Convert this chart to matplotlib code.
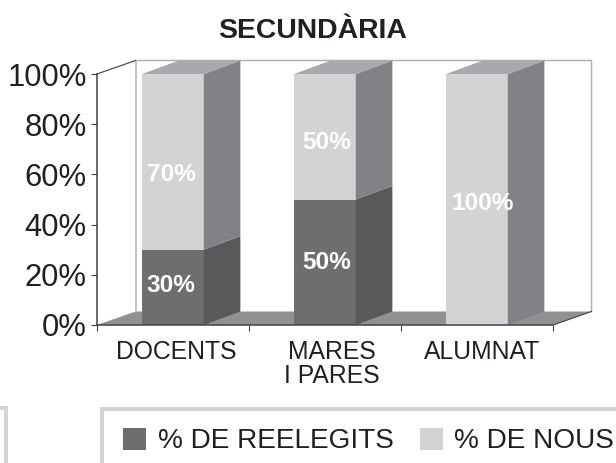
import matplotlib
matplotlib.use("Agg")
import matplotlib.pyplot as plt
from matplotlib.patches import Rectangle, Patch
from matplotlib.transforms import ScaledTranslation

plt.rcParams['font.family'] = ['Liberation Sans', 'DejaVu Sans']

categories = ['DOCENTS', 'MARES\nI PARES', 'ALUMNAT']
reelegits = [30, 50, 0]
nous = [70, 50, 100]
y_ticks = [0, 20, 40, 60, 80, 100]
y_tick_labels = ['0%', '20%', '40%', '60%', '80%', '100%']
title = 'SECUNDÀRIA'
legend_labels = ['% DE REELEGITS', '% DE NOUS']

W, H = 616, 463
fig = plt.figure(figsize=(W / 100, H / 100), dpi=100)
L, R, T, B = 97, 553, 74, 325
ax = fig.add_axes([L / W, 1 - B / H, (R - L) / W, (B - T) / H])
ax.set_xlim(-0.5, 2.5)
ax.set_ylim(0, 100)

DX = 38.5 / 152
DY = 13.5 / 251 * 100
BW = 0.405

C_DARK, C_LIGHT = '#6d6e70', '#d1d3d4'
S_DARK, S_LIGHT = '#58595b', '#808285'
C_TOP, C_FLOOR = '#a7a9ac', '#8f9193'
C_WALL, C_AXIS = '#b1b3b6', '#414042'

x0, x1 = -0.5, 2.5
ax.fill([x0, x1, x1 + DX, x0 + DX], [0, 0, DY, DY], color=C_FLOOR, lw=0, zorder=1, clip_on=False)
ax.plot([x0, x0 + DX, x1 + DX, x1 + DX], [100, 100 + DY, 100 + DY, DY], color=C_WALL, lw=1.1, zorder=1, clip_on=False)
ax.plot([x0 + DX, x0 + DX], [100 + DY, DY], color=C_WALL, lw=1.1, zorder=1, clip_on=False)
ax.plot([x0, x0 + DX], [100, 100 + DY], color=C_AXIS, lw=0.6, zorder=1.1, clip_on=False)
ax.plot([x1, x1 + DX], [0, DY], color=C_AXIS, lw=0.8, zorder=1.1, clip_on=False)

xs = list(range(len(categories)))
for i, (a, b) in enumerate(zip(reelegits, nous)):
    xl, xr = i - BW / 2, i + BW / 2
    if a > 0:
        ax.bar(i, a, BW, color=C_DARK, lw=0, zorder=3)
        ax.fill([xr, xr + DX * 0.95, xr + DX * 0.95, xr], [0, DY, a + DY, a], color=S_DARK, lw=0, zorder=3, clip_on=False)
    ax.bar(i, b, BW, bottom=a, color=C_LIGHT, lw=0, zorder=3)
    ax.fill([xr, xr + DX * 0.95, xr + DX * 0.95, xr], [a, a + DY, a + b + DY, a + b], color=S_LIGHT, lw=0, zorder=3, clip_on=False)
    ax.fill([xl, xr, xr + DX * 0.95, xl + DX * 0.95], [a + b, a + b, a + b + DY, a + b + DY], color=C_TOP, lw=0, zorder=3, clip_on=False)

off_dark = [(-2, 2), (2, 0), None]
off_light = [(-2, -13), (2, -6), (6, -4)]
fs_lab = 17.6
def lab(i, y, v, off):
    ax.annotate(f'{v}%', (i, y), xytext=(off[0] * 0.72, off[1] * 0.72), textcoords='offset points',
                ha='center', va='center', color='white', fontweight='bold', fontsize=fs_lab, zorder=5)
for i, (a, b) in enumerate(zip(reelegits, nous)):
    if a > 0:
        lab(i, a / 2, a, off_dark[i])
    lab(i, a + b / 2, b, off_light[i])

for s in ['top', 'right']:
    ax.spines[s].set_visible(False)
for s in ['left', 'bottom']:
    ax.spines[s].set_color(C_AXIS)
    ax.spines[s].set_linewidth(1.1)
    ax.spines[s].set_zorder(4)
ax.set_yticks(y_ticks, y_tick_labels, fontsize=22.3, color='#231f20')
ax.set_xticks([-0.5, 0.5, 1.5, 2.5], [''] * 4)
ax.set_xticks(xs, categories, minor=True, fontsize=17.8, color='#231f20', linespacing=1.0)
ax.tick_params(axis='x', which='major', length=4.5, width=0.8, color=C_AXIS)
ax.tick_params(axis='x', which='minor', length=0, pad=11)
ax.tick_params(axis='y', length=4.5, width=0.8, color=C_AXIS, pad=3)

label_shift_px = [3.5, 7, 5]
for t, d in zip(ax.get_xticklabels(minor=True), label_shift_px):
    t.set_transform(t.get_transform() + ScaledTranslation(d / 100, 0, fig.dpi_scale_trans))

fig.text(312.5 / W, 1 - 31 / H, title, ha='center', va='center', fontsize=20.4, fontweight='bold', color='#231f20')

C_FRAME = '#d1d3d4'
def px_rect(x, y, w, h):
    fig.add_artist(Rectangle((x / W, 1 - (y + h) / H), w / W, h / H, transform=fig.transFigure,
                             facecolor=C_FRAME, edgecolor='none'))
px_rect(100, 407, 520, 4)
px_rect(100, 407, 3.5, 60)
px_rect(0, 406, 7.5, 4)
px_rect(4, 406, 3.5, 60)

handles = [Patch(facecolor=C_DARK, edgecolor='none'), Patch(facecolor=C_LIGHT, edgecolor='none')]
fig.legend(handles, legend_labels, ncols=2, frameon=False, fontsize=20.2, labelcolor='#231f20',
           loc='center left', bbox_to_anchor=(115 / W, 1 - 441 / H), handlelength=0.82, handleheight=0.82,
           handletextpad=0.4, columnspacing=0.93, borderpad=0.3, borderaxespad=0)

fig.savefig('out.png', dpi=100)
